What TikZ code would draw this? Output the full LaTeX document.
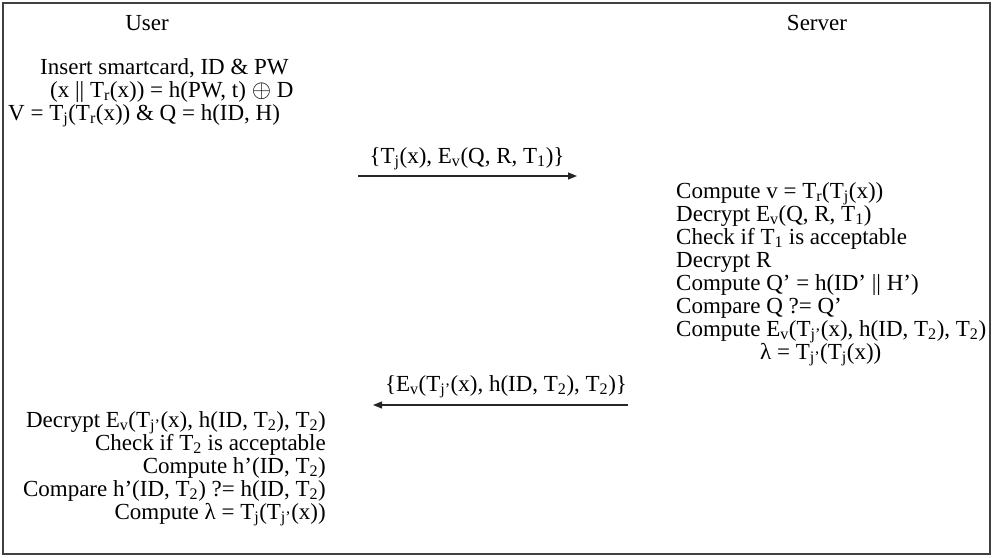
\documentclass[tikz,border=0pt]{standalone}
\usepackage{fontspec}
\setmainfont{Liberation Serif}
\usetikzlibrary{arrows.meta}
\newcommand{\ds}[1]{\textsubscript{#1}}
\newcommand{\tightlines}{\lineskiplimit=-30pt\relax\lineskip=0pt\relax}
\begin{document}
\begin{tikzpicture}[x=1pt,y=-1pt,
  txt/.style={inner sep=0pt, font=\fontsize{23}{23}\selectfont\tightlines},
  msg/.style={-{Triangle[length=9pt,width=7pt]}, line width=1.1pt, draw=black!85}]
\useasboundingbox (0,0) rectangle (993,557);
\draw[line width=1.4pt, draw=black!75] (3,3) rectangle (990,554);
% headers
\node[txt, anchor=base] (user) at (147,30) {User};
\node[txt, anchor=base] (server) at (817,30) {Server};
% user block 1 (anchored at the baseline of its last line)
\node[txt, anchor=base west, align=left] (ublock1) at (8,120) {%
  \hspace*{32pt}Insert smartcard, ID \& PW\\
  \hspace*{42pt}(x || T\ds{r}(x)) = h(PW, t) $\oplus$ D\\
  V = T\ds{j}(T\ds{r}(x)) \& Q = h(ID, H)};
% message 1
\coordinate (m1s) at (358,176);
\coordinate (m1e) at (577,176);
\draw[msg] (m1s) -- (m1e);
\node[txt, anchor=base] (l1) at (467,163) {\{T\ds{j}(x), E\ds{v}(Q, R, T\ds{1})\}};
% server block
\node[txt, anchor=base west, align=left] (sblock) at (676,359) {%
  Compute v = T\ds{r}(T\ds{j}(x))\\
  Decrypt E\ds{v}(Q, R, T\ds{1})\\
  Check if T\ds{1} is acceptable\\
  Decrypt R\\
  Compute Q’ = h(ID’ || H’)\\
  Compare Q ?= Q’\\
  Compute E\ds{v}(T\ds{j’}(x), h(ID, T\ds{2}), T\ds{2})\\
  \hspace*{84pt}λ = T\ds{j’}(T\ds{j}(x))};
% message 2
\coordinate (m2s) at (628,405);
\coordinate (m2e) at (373,405);
\draw[msg] (m2s) -- (m2e);
\node[txt, anchor=base] (l2) at (506,391) {\{E\ds{v}(T\ds{j’}(x), h(ID, T\ds{2}), T\ds{2})\}};
% user block 2
\node[txt, anchor=base east, align=right] (ublock2) at (326,519) {%
  Decrypt E\ds{v}(T\ds{j’}(x), h(ID, T\ds{2}), T\ds{2})\\
  Check if T\ds{2} is acceptable\\
  Compute h’(ID, T\ds{2})\\
  Compare h’(ID, T\ds{2}) ?= h(ID, T\ds{2})\\
  Compute λ = T\ds{j}(T\ds{j’}(x))};
\end{tikzpicture}
\end{document}
